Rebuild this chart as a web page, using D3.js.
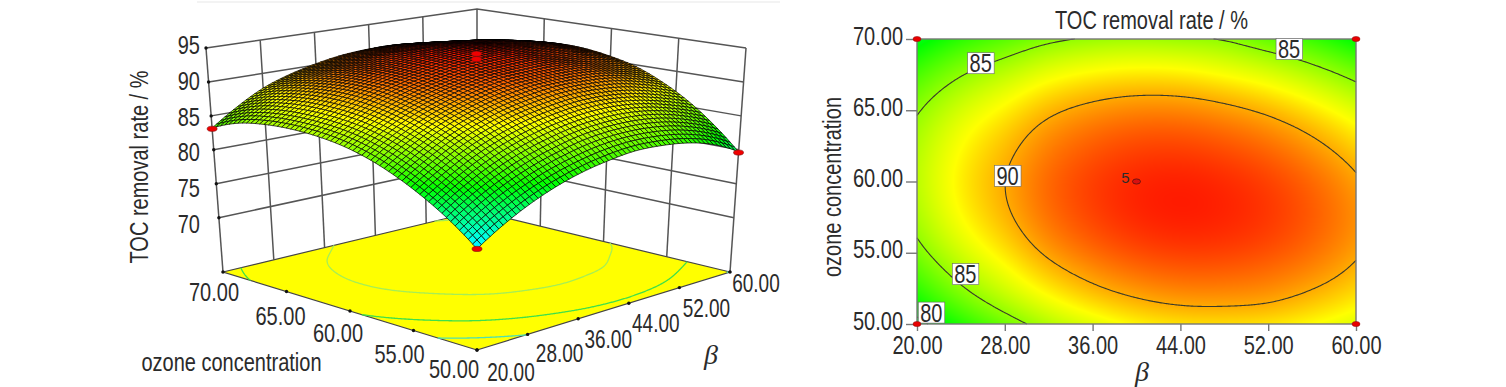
<!DOCTYPE html>
<html>
<head>
<meta charset="utf-8">
<script src="https://cdn.jsdelivr.net/npm/d3@7"></script>
<style>
  html, body { margin: 0; background: #fff; }
  svg { display: block; }
  text { font-family: "Liberation Sans", Arial, sans-serif; fill: #2b2b2b; }
  .sym { font-family: "Liberation Serif", serif; font-style: italic; }
</style>
</head>
<body>
<svg id="chart" width="1506" height="387"></svg>
<script>
/* values: beta across, ozone concentration down (50 to 70) */
const gridBeta = [20, 24, 28, 32, 36, 40, 44, 48, 52, 56, 60];
const gridOzone = [50, 52, 54, 56, 58, 60, 62, 64, 66, 68, 70];

const surfaceZ = [
  [75.9, 78.2, 80.1, 81.6, 82.7, 83.4, 83.8, 83.6, 83.0, 81.8, 79.7],
  [78.7, 81.0, 82.9, 84.4, 85.5, 86.3, 86.6, 86.5, 85.9, 84.7, 83.0],
  [81.0, 83.3, 85.3, 86.8, 87.9, 88.6, 89.0, 88.9, 88.3, 87.2, 85.8],
  [82.9, 85.2, 87.2, 88.7, 89.8, 90.5, 90.9, 90.8, 90.4, 89.4, 88.0],
  [84.4, 86.7, 88.6, 90.0, 91.1, 91.8, 92.0, 92.0, 91.6, 90.8, 89.7],
  [85.4, 87.7, 89.6, 90.9, 91.8, 92.5, 92.8, 92.8, 92.3, 91.8, 90.7],
  [85.9, 88.2, 90.2, 91.5, 92.3, 93.0, 93.4, 93.3, 92.9, 92.3, 91.3],
  [86.0, 88.3, 90.3, 91.6, 92.4, 93.1, 93.5, 93.4, 92.9, 92.4, 91.4],
  [85.7, 88.0, 89.9, 91.2, 92.0, 92.8, 93.1, 93.0, 92.6, 92.0, 91.0],
  [84.9, 87.2, 89.1, 90.4, 91.2, 91.9, 92.3, 92.2, 91.8, 91.2, 90.2],
  [83.2, 85.7, 87.8, 89.2, 90.2, 90.9, 91.2, 91.2, 90.7, 90.0, 88.9]
];

const contourZ = [
  [79.3, 81.9, 84.0, 85.9, 87.2, 88.2, 88.7, 88.8, 88.6, 88.0, 87.1],
  [81.79, 84.28, 86.3, 88.02, 89.29, 90.14, 90.59, 90.63, 90.4, 89.7, 88.7],
  [83.59, 86.01, 87.9, 89.62, 90.81, 91.59, 91.96, 91.94, 91.6, 90.9, 89.8],
  [84.97, 87.31, 89.1, 90.78, 91.9, 92.61, 92.91, 92.82, 92.41, 91.63, 90.48],
  [85.82, 88.09, 89.8, 91.41, 92.46, 93.11, 93.34, 93.17, 92.69, 91.84, 90.62],
  [86.14, 88.34, 89.98, 91.52, 92.5, 93.07, 93.23, 92.99, 92.44, 91.52, 90.23],
  [85.94, 88.07, 89.64, 91.1, 92.01, 92.51, 92.6, 92.29, 91.67, 90.68, 89.32],
  [85.31, 87.36, 88.86, 90.26, 91.1, 91.53, 91.55, 91.16, 90.47, 89.41, 88.0],
  [84.15, 86.14, 87.57, 88.9, 89.66, 90.02, 89.97, 89.51, 88.75, 87.62, 86.12],
  [82.47, 84.39, 85.74, 87.0, 87.7, 87.98, 87.86, 87.33, 86.5, 85.3, 83.72],
  [80.26, 82.1, 83.39, 84.57, 85.2, 85.42, 85.22, 84.85, 83.7, 82.5, 80.8]
];

const betaTicks = [20, 28, 36, 44, 52, 60];
const ozoneTicks = [50, 55, 60, 65, 70];
const zTicks = [70, 75, 80, 85, 90, 95];
const floorLevels = [80, 85, 90.5];
const contourLevels = [80, 85, 90];

// design points as plotted on the surface
const pointBeta = [20, 60, 20, 40, 40];
const pointOzone = [70, 50, 50, 60, 60];
const pointZ = [83.1, 79.6, 75.9, 95.0, 94.2];

const labelBeta = [25.8, 53.9, 28.25, 24.4, 21.3];
const labelOzone = [68.3, 69.3, 60.4, 53.5, 50.8];
const labelText = ["85", "85", "90", "85", "80"];

const cornerBeta = [20, 60, 20, 60];
const cornerOzone = [70, 70, 50, 50];

const ZMIN = 62, ZMAX = 95;
const hues = ["#0000ff", "#00ffff", "#00ff00", "#ffff00", "#ff0000"];
const spectrum3d = d3.scaleLinear().domain([70, 76.5, 82, 88, 94]).range(hues).clamp(true);
const spectrum2d = d3.scaleLinear().domain([69, 75, 81, 88, 94]).range(hues).clamp(true);

const svg = d3.select("#chart");

/* smooth reading of a table between its read values, for the fine mesh and heat map */
function tableAt(table, beta, ozone) {
  const val = (i, j) => {
    if (j < 0) return 3 * val(i, 0) - 3 * val(i, 1) + val(i, 2);
    if (j > 10) return 3 * val(i, 10) - 3 * val(i, 9) + val(i, 8);
    if (i < 0) return 3 * table[j][0] - 3 * table[j][1] + table[j][2];
    if (i > 10) return 3 * table[j][10] - 3 * table[j][9] + table[j][8];
    return table[j][i];
  };
  const cr = (a, b, c, d, t) => 0.5 * (2 * b + (c - a) * t + (2 * a - 5 * b + 4 * c - d) * t * t + (3 * b - a - 3 * c + d) * t * t * t);
  const fx = (beta - 20) / 4, fy = (ozone - 50) / 2;
  const i = Math.min(9, Math.floor(fx)), j = Math.min(9, Math.floor(fy));
  const tx = fx - i, ty = fy - j;
  const rows = [-1, 0, 1, 2].map(dj => cr(val(i - 1, j + dj), val(i, j + dj), val(i + 1, j + dj), val(i + 2, j + dj), tx));
  return cr(rows[0], rows[1], rows[2], rows[3], ty);
}

/* contour rings with the parts that only follow the plot edge removed */
function levelLines(table, levels) {
  const nx = 321, ny = 241;
  const values = new Float64Array(nx * ny);
  for (let j = 0; j < ny; j++) for (let i = 0; i < nx; i++)
    values[j * nx + i] = tableAt(table, 20 + 40 * i / (nx - 1), 50 + 20 * j / (ny - 1));
  const sets = d3.contours().size([nx, ny]).smooth(true).thresholds(levels)(Array.from(values));
  return sets.map(s => {
    const out = [];
    s.coordinates.forEach(poly => poly.forEach(ring => {
      const pts = ring.map(p => [(p[0] - 0.5) / (nx - 1), (p[1] - 0.5) / (ny - 1)]);
      const edge = p => p[0] <= 0.0005 || p[0] >= 0.9995 || p[1] <= 0.0005 || p[1] >= 0.9995;
      let run = [];
      pts.forEach((p, k) => {
        const keep = !edge(p) || (k > 0 && !edge(pts[k - 1])) || (k < pts.length - 1 && !edge(pts[k + 1]));
        if (keep) run.push([20 + 40 * Math.min(1, Math.max(0, p[0])), 50 + 20 * Math.min(1, Math.max(0, p[1]))]);
        else { if (run.length > 1) out.push(run); run = []; }
      });
      if (run.length > 1) out.push(run);
    }));
    return { level: s.value, lines: out };
  });
}

/* ---------- left: the response surface ---------- */
// box corners on screen: front, left, right, back, floor and top
const floorPx = { f: [477, 350], l: [223, 272], r: [730, 272], b: [477, 211] };
const topPx = { f: [477, 110], l: [206, 48], r: [746, 48], b: [477, 9] };
const tB = d3.scaleLinear().domain([20, 60]).range([0, 1]);
const tO = d3.scaleLinear().domain([50, 70]).range([0, 1]);
const tZ = d3.scaleLinear().domain([ZMIN, ZMAX]).range([0, 1]);

function project(beta, ozone, z) {
  const u = tB(beta), v = tO(ozone), w = tZ(z);
  const bil = (c, k) => (1 - u) * (1 - v) * c.f[k] + (1 - u) * v * c.l[k] + u * (1 - v) * c.r[k] + u * v * c.b[k];
  return [0, 1].map(k => (1 - w) * bil(floorPx, k) + w * bil(topPx, k));
}

const g3 = svg.append("g");
const wallLine = d3.line();

g3.append("line").attr("x1", 197).attr("x2", 780).attr("y1", 2).attr("y2", 2).attr("stroke", "#efefef").attr("stroke-width", 1.5);

// back walls
const wallSegs = [];
betaTicks.forEach(b => wallSegs.push([project(b, 70, ZMIN), project(b, 70, ZMAX)]));
ozoneTicks.slice(0, -1).forEach(o => wallSegs.push([project(60, o, ZMIN), project(60, o, ZMAX)]));
zTicks.forEach(z => wallSegs.push([project(20, 70, z), project(60, 70, z), project(60, 50, z)]));
g3.append("g").selectAll("path").data(wallSegs).join("path")
  .attr("d", wallLine).attr("fill", "none").attr("stroke", "#555").attr("stroke-width", 1.5);

// floor
g3.append("path")
  .attr("d", wallLine([[20, 50], [20, 70], [60, 70], [60, 50], [20, 50]].map(p => project(p[0], p[1], ZMIN))))
  .attr("fill", "#ffff00").attr("stroke", "#454545").attr("stroke-width", 1.2);

const floorColor = d3.scaleOrdinal().domain(floorLevels).range(["#4fe0b0", "#3fe04a", "#a6ee55"]);
levelLines(surfaceZ, floorLevels).forEach(s => {
  g3.append("g").selectAll("path").data(s.lines).join("path")
    .attr("d", l => wallLine(l.map(p => project(p[0], p[1], ZMIN))))
    .attr("fill", "none").attr("stroke", floorColor(s.level)).attr("stroke-width", 1.3);
});

// tick dots
const dots = [];
zTicks.forEach(z => dots.push(project(20, 70, z)));
betaTicks.forEach(b => dots.push(project(b, 50, ZMIN)));
ozoneTicks.forEach(o => dots.push(project(20, o, ZMIN)));
g3.append("g").selectAll("circle").data(dots).join("circle")
  .attr("cx", d => d[0]).attr("cy", d => d[1]).attr("r", 1.7).attr("fill", "#111");

// surface mesh, painted from the back corner to the front
const N = 60;
const mb = d3.scaleLinear().domain([0, N]).range([20, 60]);
const mo = d3.scaleLinear().domain([0, N]).range([50, 70]);
const cells = [];
d3.range(N).forEach(i => d3.range(N).forEach(j => {
  const q = [[i, j], [i + 1, j], [i + 1, j + 1], [i, j + 1]].map(c => {
    const b = mb(c[0]), o = mo(c[1]);
    return { b, o, z: tableAt(surfaceZ, b, o) };
  });
  cells.push({ depth: i + j, q, z: d3.mean(q, p => p.z) });
}));
cells.sort((a, b) => d3.descending(a.depth, b.depth));
g3.append("g").selectAll("path").data(cells).join("path")
  .attr("d", d => wallLine(d.q.map(p => project(p.b, p.o, p.z))) + "Z")
  .attr("fill", d => spectrum3d(d.z))
  .attr("stroke", "#000").attr("stroke-width", 0.7);

// design points
g3.append("g").selectAll("ellipse").data(d3.range(pointZ.length)).join("ellipse")
  .attr("cx", i => project(pointBeta[i], pointOzone[i], pointZ[i])[0])
  .attr("cy", i => project(pointBeta[i], pointOzone[i], pointZ[i])[1])
  .attr("rx", 5).attr("ry", 2.6)
  .attr("fill", "#f00000").attr("stroke", "#7a1010").attr("stroke-width", 0.6);

// labels around the box
const nudgeBeta = [[34, 22], [32, 19], [30, 20], [27, 20], [27, 20], [26, 11]];
const nudgeOzone = [[-23, 19], [-14, 23], [-12, 22], [-6, 24], [-9, 20]];
const zLabelY = d3.scaleLinear().domain([70, 95]).range([224, 45]);

const tick3 = (sel, data, fx, fy, anchor, fmt, cls) => sel.append("g").selectAll("text").data(data).join("text")
  .attr("class", cls || "nar").attr("x", fx).attr("y", fy).attr("dy", "0.36em").attr("text-anchor", anchor)
  .attr("font-size", 25).text(fmt);
const fmt2 = d3.format(".2f");

tick3(g3, betaTicks, (d, i) => project(d, 50, ZMIN)[0] + nudgeBeta[i][0], (d, i) => project(d, 50, ZMIN)[1] + nudgeBeta[i][1], "middle", fmt2, "tight");
tick3(g3, ozoneTicks, (d, i) => project(20, d, ZMIN)[0] + nudgeOzone[i][0], (d, i) => project(20, d, ZMIN)[1] + nudgeOzone[i][1], "middle", fmt2);
tick3(g3, zTicks, 200, d => zLabelY(d), "end", d => d);

g3.append("text").attr("class", "nar").attr("transform", "translate(139,167) rotate(-90)").attr("dy", "0.36em")
  .attr("text-anchor", "middle").attr("font-size", 25).text("TOC removal rate / %");
g3.append("text").attr("class", "nar").attr("x", 231.5).attr("y", 362).attr("dy", "0.36em")
  .attr("text-anchor", "middle").attr("font-size", 25).text("ozone concentration");
g3.append("text").attr("class", "sym").attr("x", 711).attr("y", 364)
  .attr("text-anchor", "middle").attr("font-size", 28).text("β");

/* ---------- right: the contour plot ---------- */
const px = { l: 917, r: 1356, t: 39, b: 324 };
const x = d3.scaleLinear().domain([20, 60]).range([px.l, px.r]);
const y = d3.scaleLinear().domain([50, 70]).range([px.b, px.t]);
const g2 = svg.append("g");

// heat map painted into an image
const w = px.r - px.l, h = px.b - px.t;
const cv = document.createElement("canvas");
cv.width = w; cv.height = h;
const ctx = cv.getContext("2d");
const img = ctx.createImageData(w, h);
for (let r = 0; r < h; r++) for (let c = 0; c < w; c++) {
  const col = d3.rgb(spectrum2d(tableAt(contourZ, x.invert(px.l + c + 0.5), y.invert(px.t + r + 0.5))));
  const k = (r * w + c) * 4;
  img.data[k] = col.r; img.data[k + 1] = col.g; img.data[k + 2] = col.b; img.data[k + 3] = 255;
}
ctx.putImageData(img, 0, 0);
g2.append("image").attr("x", px.l).attr("y", px.t).attr("width", w).attr("height", h)
  .attr("href", cv.toDataURL());

const ctLine = d3.line().x(d => x(d[0])).y(d => y(d[1]));
levelLines(contourZ, contourLevels).forEach(s => {
  g2.append("g").selectAll("path").data(s.lines).join("path")
    .attr("d", ctLine).attr("fill", "none").attr("stroke", "#3a3a2a").attr("stroke-width", 1.1);
});

g2.append("rect").attr("x", px.l).attr("y", px.t).attr("width", w).attr("height", h)
  .attr("fill", "none").attr("stroke", "#777").attr("stroke-width", 1.4);

const ax = g2.append("g").attr("transform", `translate(0,${px.b})`)
  .call(d3.axisBottom(x).tickValues(betaTicks).tickFormat(fmt2).tickSize(7).tickSizeOuter(0));
const ay = g2.append("g").attr("transform", `translate(${px.l},0)`)
  .call(d3.axisLeft(y).tickValues(ozoneTicks).tickFormat(fmt2).tickSize(11).tickSizeOuter(0));
[ax, ay].forEach(a => {
  a.select(".domain").remove();
  a.selectAll("line").attr("stroke", "#777").attr("stroke-width", 1.4);
  a.selectAll("text").attr("class", "nar").attr("font-size", 25).attr("font-family", null);
});
ax.selectAll("text").attr("y", 12).attr("dy", "0.71em");
ay.selectAll("text").attr("x", -14).attr("dy", "0.2em");

// contour labels in their white boxes
const lab = g2.append("g").selectAll("g").data(labelText).join("g")
  .attr("transform", (d, i) => `translate(${x(labelBeta[i])},${y(labelOzone[i])})`);
lab.append("rect").attr("x", -13).attr("y", -10.5).attr("width", 26.5).attr("height", 21)
  .attr("fill", "#fff").attr("stroke", "#666").attr("stroke-width", 0.6);
lab.append("text").attr("class", "nar").attr("dy", "0.36em").attr("text-anchor", "middle").attr("font-size", 25).text(d => d);

// design points and the replicate count
g2.append("g").selectAll("ellipse").data(d3.range(cornerBeta.length)).join("ellipse")
  .attr("cx", i => x(cornerBeta[i])).attr("cy", i => y(cornerOzone[i]))
  .attr("rx", 4).attr("ry", 2.6).attr("fill", "#e80000").attr("stroke", "#8a1010").attr("stroke-width", 0.5);
g2.append("ellipse").attr("cx", x(40)).attr("cy", y(60)).attr("rx", 4).attr("ry", 2.6)
  .attr("fill", "#d81010").attr("stroke", "#551010").attr("stroke-width", 0.8);
g2.append("text").attr("x", x(40) - 11).attr("y", y(60) - 4).attr("dy", "0.36em")
  .attr("text-anchor", "middle").attr("font-size", 15).text("5");

g2.append("text").attr("class", "nar").attr("x", 1151.5).attr("y", 20).attr("dy", "0.36em")
  .attr("text-anchor", "middle").attr("font-size", 25).text("TOC removal rate / %");
g2.append("text").attr("class", "nar").attr("transform", "translate(832,187) rotate(-90)").attr("dy", "0.36em")
  .attr("text-anchor", "middle").attr("font-size", 25).text("ozone concentration");
g2.append("text").attr("class", "sym").attr("x", 1142).attr("y", 381)
  .attr("text-anchor", "middle").attr("font-size", 28).text("β");

// the reference type is condensed: squeeze each label below its natural width
svg.selectAll("text.nar").each(function () {
  this.setAttribute("textLength", this.getComputedTextLength() * 0.8);
  this.setAttribute("lengthAdjust", "spacingAndGlyphs");
});
// the beta ticks sit close together, so these get a real horizontal scale
svg.selectAll("text.tight").each(function () {
  const cx = +this.getAttribute("x");
  this.setAttribute("transform", `translate(${cx},0) scale(0.76,1) translate(${-cx},0)`);
});
</script>
</body>
</html>
